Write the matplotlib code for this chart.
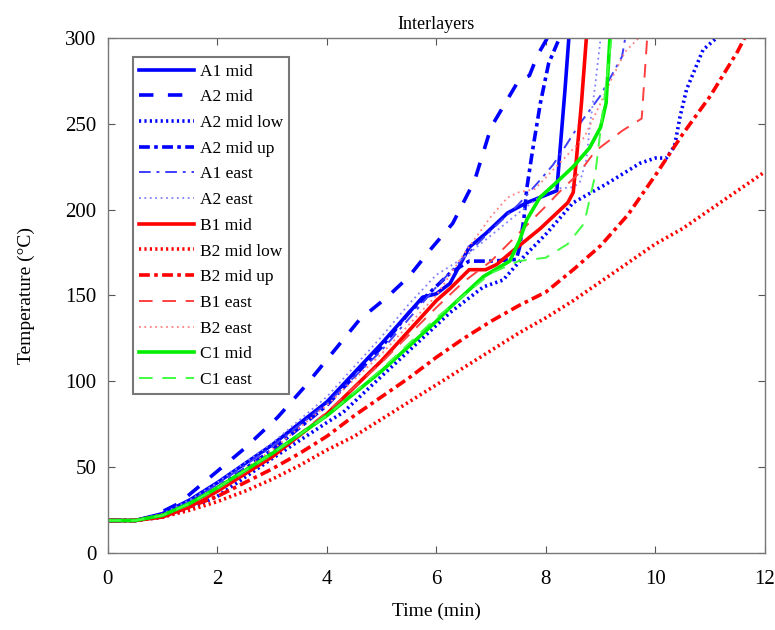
import matplotlib
matplotlib.use('Agg')
import matplotlib.pyplot as plt

matplotlib.rcParams['font.family'] = 'Liberation Serif'
matplotlib.rcParams['mathtext.fontset'] = 'stix'

# time (min) / temperature (C)
a1_mid_t = [0, 0.5, 1, 1.5, 2, 3, 4, 5, 5.75, 6, 6.25, 6.6, 6.9, 7.3, 7.65, 8.2, 8.26, 8.35, 8.42]
a1_mid_y = [19, 19, 23, 31, 41, 63, 88, 122, 149, 151, 157, 178, 186, 198, 204, 211, 235, 270, 300]

a2_mid_t = [0, 0.5, 0.8, 1.3, 1.9, 2.5, 3.1, 3.6, 4.6, 5.1, 5.5, 5.9, 6.3, 6.7, 7.0, 7.5, 7.7, 7.85, 8.03]
a2_mid_y = [19, 19, 21, 29, 45, 61, 79, 97, 136, 149, 161, 177, 192, 217, 248, 275, 278, 290, 300]

a2_low_t = [0, 0.5, 1, 1.5, 2, 3, 4, 4.3, 5, 6.25, 6.86, 7.22, 7.58, 8.01, 8.5, 9.11, 9.72, 10.0, 10.2, 10.35, 10.45, 10.57, 10.87, 11.12]
a2_low_y = [19, 19, 21, 26, 33, 55, 76, 82, 103, 140, 155, 159, 172, 186, 204, 215, 227, 230, 230, 237, 254, 270, 293, 300]

a2_up_t = [0, 0.5, 1, 1.5, 2, 3, 4, 5, 5.5, 6.25, 6.6, 7.0, 7.46, 7.52, 7.6, 7.65, 7.76, 7.9, 8.05, 8.25]
a2_up_y = [19, 19, 22, 29, 38, 60, 86, 120, 140, 163, 170, 170, 171, 178, 195, 212, 235, 262, 285, 300]

a1_east_t = [0, 0.5, 1, 1.5, 2, 3, 4, 5, 6, 6.5, 7, 7.5, 7.89, 8.13, 8.38, 8.62, 8.99, 9.39, 9.45]
a1_east_y = [19, 19, 22, 30, 40, 62, 87, 118, 155, 172, 188, 203, 217, 226, 238, 250, 266, 289, 300]

a2_east_t = [0, 0.5, 1, 1.5, 2, 3, 4, 5, 5.5, 6, 6.5, 7, 7.5, 8.07, 8.5, 8.62, 8.74, 8.8, 8.9, 9.0]
a2_east_y = [19, 19, 23, 31, 41, 64, 91, 126, 145, 162, 172, 185, 198, 212, 213, 216, 229, 248, 272, 300]

b1_mid_t = [0, 0.5, 1, 1.5, 2, 3, 4, 5, 6, 6.25, 6.6, 6.9, 7.1, 7.4, 7.9, 8.4, 8.5, 8.56, 8.65, 8.74]
b1_mid_y = [19, 19, 21, 27, 36, 56, 81, 112, 147, 154, 165, 165, 168, 176, 189, 204, 210, 230, 262, 300]

b2_low_t = [0, 0.5, 1, 1.5, 2, 2.5, 3, 3.5, 4, 4.5, 5, 5.5, 6, 6.5, 7, 7.5, 8, 8.5, 9, 9.5, 10, 10.5, 11, 11.5, 12]
b2_low_y = [19, 19, 21, 25, 30, 36, 43, 51, 60, 68, 78, 88, 98, 108, 118, 128, 137, 147, 158, 169, 180, 189, 200, 211, 222]

b2_up_t = [0, 0.5, 1, 1.5, 2, 2.5, 3, 3.5, 4, 4.5, 5, 5.5, 6, 6.5, 7, 7.5, 8, 8.5, 9, 9.5, 10, 10.5, 11, 11.5, 11.63]
b2_up_y = [19, 19, 22, 27, 33, 41, 49, 58, 68, 80, 91, 102, 114, 125, 135, 144, 152, 165, 179, 197, 220, 244, 266, 292, 300]

b1_east_t = [0, 0.5, 1, 1.5, 2, 3, 4, 5, 6, 6.5, 7, 7.5, 8, 8.3, 8.6, 8.9, 9.4, 9.75, 9.85]
b1_east_y = [19, 19, 22, 28, 37, 57, 82, 111, 143, 158, 170, 186, 202, 212, 221, 234, 246, 253, 300]

b2_east_t = [0, 0.5, 1, 1.5, 2, 3, 4, 5, 6, 6.5, 7, 7.3, 7.5, 7.8, 8.1, 8.4, 8.7, 9.0, 9.2, 9.45, 9.7]
b2_east_y = [19, 19, 22, 29, 38, 60, 86, 116, 150, 174, 196, 207, 210, 212, 222, 232, 242, 262, 276, 292, 300]

c1_mid_t = [0, 0.5, 1, 1.5, 2, 3, 4, 5, 6, 6.25, 6.86, 7.34, 7.52, 7.65, 7.89, 8.2, 8.5, 8.8, 9.0, 9.1, 9.17]
c1_mid_y = [19, 19, 22, 29, 38, 58, 80, 106, 135, 143, 161, 170, 182, 194, 207, 216, 225, 236, 248, 262, 300]

c1_east_t = [0, 0.5, 1, 1.5, 2, 3, 4, 5, 6, 6.5, 7, 7.5, 8.0, 8.4, 8.7, 8.9, 9.05, 9.2]
c1_east_y = [19, 19, 22, 29, 38, 58, 80, 107, 137, 150, 163, 170, 172, 180, 192, 220, 260, 300]

labels = ['A1 mid', 'A2 mid', 'A2 mid low', 'A2 mid up', 'A1 east', 'A2 east',
          'B1 mid', 'B2 mid low', 'B2 mid up', 'B1 east', 'B2 east', 'C1 mid', 'C1 east']

series = [
    (a1_mid_t, a1_mid_y, '#0000ff', '-', 2.6),
    (a2_mid_t, a2_mid_y, '#0000ff', (0, (4, 4)), 2.6),
    (a2_low_t, a2_low_y, '#0000ff', (0, (0.6, 0.9)), 2.6),
    (a2_up_t, a2_up_y, '#0000ff', (0, (3, 1.2, 1, 1.2)), 2.6),
    (a1_east_t, a1_east_y, '#3d3dff', (0, (6, 3, 1.5, 3)), 1.4),
    (a2_east_t, a2_east_y, '#8080ff', (0, (1, 2)), 1.3),
    (b1_mid_t, b1_mid_y, '#ff0000', '-', 2.6),
    (b2_low_t, b2_low_y, '#ff0000', (0, (0.6, 0.9)), 2.6),
    (b2_up_t, b2_up_y, '#ff0000', (0, (3, 1.2, 1, 1.2)), 2.6),
    (b1_east_t, b1_east_y, '#ff4040', (0, (7, 5)), 1.4),
    (b2_east_t, b2_east_y, '#ff8080', (0, (1, 2)), 1.3),
    (c1_mid_t, c1_mid_y, '#00ee00', '-', 2.6),
    (c1_east_t, c1_east_y, '#40ff40', (0, (7, 5)), 1.4),
]

fig = plt.figure(figsize=(7.75, 6.3), dpi=100)
ax = fig.add_axes([0.139, 0.122, 0.848, 0.818])

for (t, y, c, ls, lw), lab in zip(series, labels):
    ax.plot(t, y, color=c, linestyle=ls, linewidth=lw, label=lab)

ax.set_xlim(0, 12)
ax.set_ylim(0, 300)
ax.set_xticks([0, 2, 4, 6, 8, 10, 12])
ax.set_yticks([0, 50, 100, 150, 200, 250, 300])
ax.tick_params(direction='in', top=True, right=True, labelsize=15, length=5, color='#555555', pad=8)
ax.tick_params(axis='x', pad=12)
for s in ax.spines.values():
    s.set_color('#777777')
    s.set_linewidth(1.0)

ax.set_title('Interlayers', fontsize=13, pad=6)
ax.set_xlabel('Time (min)', fontsize=14, labelpad=10)
ax.set_ylabel('Temperature (°C)', fontsize=14, labelpad=22)

leg = ax.legend(loc='upper left', bbox_to_anchor=(0.038, 0.962), fontsize=12.5,
                handlelength=3.2, handletextpad=0.3, labelspacing=0.55,
                borderaxespad=0, borderpad=0.35, fancybox=False, framealpha=1)
leg.get_frame().set_edgecolor('#777777')
leg.get_frame().set_linewidth(1.5)

fig.savefig('out.png', dpi=100)
